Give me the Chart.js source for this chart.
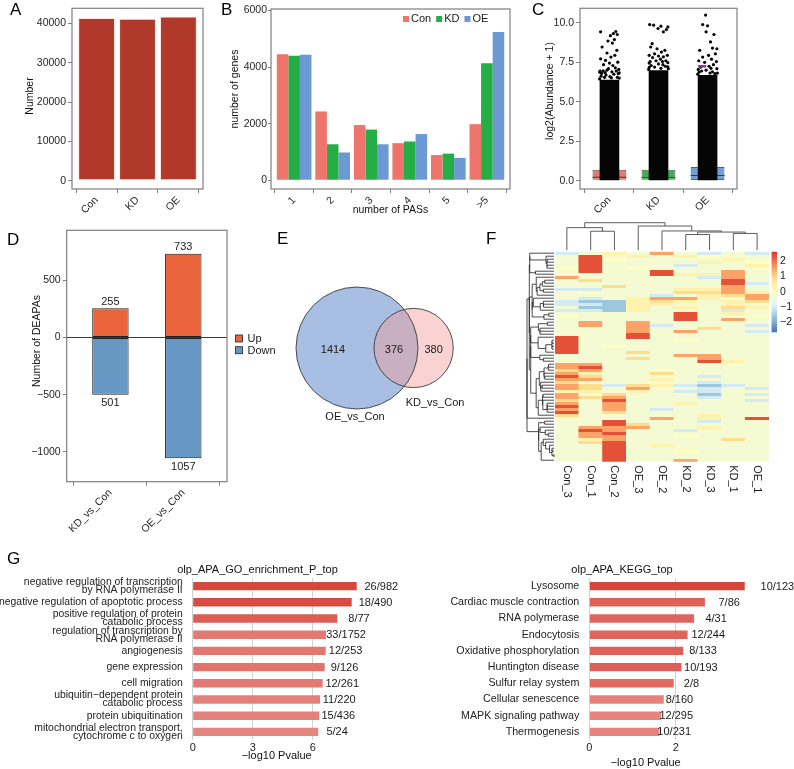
<!DOCTYPE html>
<html>
<head>
<meta charset="utf-8">
<title>APA figure</title>
<script src="https://cdn.jsdelivr.net/npm/chart.js@4.4.1/dist/chart.umd.min.js"></script>
<style>
  html, body { margin:0; padding:0; background:#ffffff; }
  #fig { position:relative; width:794px; height:769px; overflow:hidden; background:#fff;
         font-family:"Liberation Sans", Arial, Helvetica, sans-serif; }
  #fig canvas { position:absolute; }
  .plab { position:absolute; font-size:17px; line-height:17px; color:#000; }
</style>
</head>
<body>
<div id="fig">
  <canvas id="cA" width="212" height="230" style="left:0px;top:0px"></canvas>
  <canvas id="cB" width="315" height="230" style="left:205px;top:0px"></canvas>
  <canvas id="cC" width="264" height="230" style="left:530px;top:0px"></canvas>
  <canvas id="cD" width="280" height="330" style="left:0px;top:222px"></canvas>
  <canvas id="cE" width="200" height="260" style="left:280px;top:222px"></canvas>
  <canvas id="cF" width="274" height="300" style="left:520px;top:215px"></canvas>
  <canvas id="cG1" width="400" height="209" style="left:0px;top:560px"></canvas>
  <canvas id="cG2" width="394" height="209" style="left:400px;top:560px"></canvas>
  <div class="plab" style="left:10px;top:1px">A</div>
  <div class="plab" style="left:221px;top:1px">B</div>
  <div class="plab" style="left:532px;top:1px">C</div>
  <div class="plab" style="left:7px;top:231px">D</div>
  <div class="plab" style="left:277px;top:230px">E</div>
  <div class="plab" style="left:486px;top:230px">F</div>
  <div class="plab" style="left:7px;top:550px">G</div>
</div>
<script>
// ===================== DATA =====================
// A
const aCategories = ['Con', 'KD', 'OE'];
const aNumbers = [41400, 41250, 41800];
const aTicks = [0, 10000, 20000, 30000, 40000];

// B
const bCategories = ['1', '2', '3', '4', '5', '>5'];
const bCon = [4450, 2430, 1950, 1310, 890, 1980];
const bKD  = [4400, 1270, 1790, 1370, 940, 4130];
const bOE  = [4430, 980, 1270, 1630, 790, 5240];
const bTicks = [0, 2000, 4000, 6000];

// C  (box statistics, dense part of the jitter strip, and the sparse upper points [offset, value])
const cGroups = ['Con', 'KD', 'OE'];
const cQ1 = [0.06, 0.06, 0.05];
const cMedian = [0.23, 0.20, 0.34];
const cQ3 = [0.70, 0.70, 0.87];
const cDenseTop = [6.4, 7.0, 6.7];
const cConPoints = [
  [-0.18,9.43],[-0.03,8.85],[0.02,9.19],[0.08,9.32],[0.13,9.45],[0.16,9.26],
  [-0.15,8.47],[0.06,8.72],[0.10,8.94],[-0.05,8.09],[0.15,8.26],[-0.08,7.62],
  [0.11,7.94],[-0.18,7.72],[0.03,7.83],[0.17,7.51],[-0.12,7.35],[0.00,7.45],
  [0.07,7.30],[-0.02,7.10],[0.19,7.05],[-0.19,6.95],[0.12,7.15],[-0.09,6.85],
  [0.05,6.90],[0.18,6.78],[-0.16,6.80],[-0.05,7.00],[0.14,6.95],
  [-0.20,6.45],[0.20,6.50],[-0.17,6.62],[0.16,6.55],[-0.20,6.88],[0.20,6.84],
  [-0.07,6.70],[0.09,6.75],[0.01,6.60],[-0.13,6.96],[0.04,6.52],[-0.10,6.55]
];
const cKDPoints = [
  [-0.18,9.89],[-0.10,9.85],[-0.01,9.64],[0.05,9.79],[0.10,9.43],[0.16,9.57],[0.19,9.74],
  [-0.13,8.68],[-0.16,8.47],[-0.03,8.36],[0.13,8.26],[-0.08,8.04],[0.06,8.15],[0.18,7.94],
  [-0.19,7.94],[0.00,7.90],[0.10,7.85],[-0.12,7.80],[0.15,7.60],[-0.17,7.55],[0.04,7.70],
  [-0.05,7.60],[0.19,7.48],[-0.19,7.45],[0.08,7.55],
  [-0.20,7.05],[0.20,7.10],[-0.15,7.30],[0.14,7.25],[0.00,7.40],[-0.08,7.20],
  [0.09,7.35],[0.19,7.22],[-0.19,7.18],[0.05,7.12]
];
const cOEPoints = [
  [-0.04,10.49],[-0.10,9.89],[0.00,9.81],[-0.03,9.43],[0.13,9.26],[0.06,8.79],[-0.16,8.26],
  [0.10,8.40],[0.19,8.36],[-0.10,7.83],[0.16,8.04],[0.02,7.94],[-0.18,7.60],[0.08,7.70],
  [0.18,7.55],[-0.06,7.50],[0.12,7.35],[-0.14,7.20],[0.03,7.25],[0.19,7.10],[-0.19,7.05],[0.07,7.12],
  [-0.20,6.75],[0.20,6.82],[-0.12,6.95],[0.10,6.90],[0.15,6.78],[-0.03,7.00],[-0.17,6.88],[0.05,6.82]
];
const cMarkOE = [-0.11, 7.25];
const cTicks = [0, 2.5, 5, 7.5, 10];

// D
const dComparisons = ['KD_vs_Con', 'OE_vs_Con'];
const dUp = [255, 733];
const dDown = [501, 1057];
const dTicks = [-1000, -500, 0, 500];

// E
const eSetNames = ['OE_vs_Con', 'KD_vs_Con'];
const eOnly = [1414, 380];
const eShared = 376;

// F  (rows top->bottom, columns in displayed order; letter = value level)
const fSamples = ['Con_3','Con_1','Con_2','OE_3','OE_2','KD_2','KD_3','KD_1','OE_1'];
const fLevel = { 'b': -1.6, 'l': -1.0, '.': -0.3, ',': 0.0, 'y': 0.35, 'o': 0.9, 'O': 1.5, 'R': 2.3 };
const fRows = [
  'l.y.O.l.l', '.R.y.y,..', '.R,....y.', '.R....y.,', '.R...l..y', ',R.,.....',
  '.R..R..O.', '....RyyO.', 'O.....lO.', '.o.....R.', '.......Rl', '..o....O.',
  'll...yyO.', '.,...ooOy', '....l.yoO', '.l.yOOy.O', 'lbbyoy.yo', 'llbyy..y.',
  '.bby.y.oy', 'llby...l.', '.....R.y.', ',....R..,', '.....R.O.', '.O.O.....',
  '.O.Ol...l', '...O..o..', '...O.O..l', '...R.....', 'R..R.....', 'R....,...',
  'R........', 'R.,......', 'R........', 'R..o.....', '.....OO..', '...o..O..',
  '......Ry.', 'OO.......', 'OR.......', 'oO..,....', 'Oy..o....', 'Ro....l..',
  'OO..y....', 'o.....l..', 'Ooloylbl.', 'Oo.O..l.l', 'yy.y.ll..', 'O.o...b.l',
  'OoO...l..', 'o.R.....l', 'O.O..y...', 'R.O......', 'O.O.l....', 'R.o......',
  'o.....y..', '....O.y.R', '..R...l..', '..Ro.....', '.OOO..y..', '.RO..l...',
  '.OR......', '.OO..,...', '.yO....o.', '.oR......', '..R.y....', '..R......',
  '..R..,...', '..R......', '..R......', '..R..O...'
];
const fColMerges = [[1,2,0.69],[0,9,0.82],[5,6,0.57],[7,8,0.61],[11,12,0.66],[4,13,0.70],[3,14,0.88],[10,15,1.0]];
const fRange = [-2.6, 2.6];
const fLegendTicks = [2, 1, 0, -1, -2];

// G
const goTerms = [
  ['negative regulation of transcription', 'by RNA polymerase II'],
  'negative regulation of apoptotic process',
  ['positive regulation of protein', 'catabolic process'],
  ['regulation of transcription by', 'RNA polymerase II'],
  'angiogenesis',
  'gene expression',
  'cell migration',
  ['ubiquitin\u2212dependent protein', 'catabolic process'],
  'protein ubiquitination',
  ['mitochondrial electron transport,', 'cytochrome c to oxygen']
];
const goLog10P = [8.2, 7.95, 7.23, 6.67, 6.65, 6.6, 6.5, 6.37, 6.33, 6.28];
const goCounts = ['26/982', '18/490', '8/77', '33/1752', '12/253', '9/126', '12/261', '11/220', '15/436', '5/24'];
const goTicks = [0, 3, 6];

const keggTerms = ['Lysosome', 'Cardiac muscle contraction', 'RNA polymerase', 'Endocytosis',
  'Oxidative phosphorylation', 'Huntington disease', 'Sulfur relay system', 'Cellular senescence',
  'MAPK signaling pathway', 'Thermogenesis'];
const keggLog10P = [3.59, 2.67, 2.42, 2.27, 2.17, 2.13, 1.95, 1.72, 1.66, 1.62];
const keggCounts = ['10/123', '7/86', '4/31', '12/244', '8/133', '10/193', '2/8', '8/160', '12/295', '10/231'];
const keggTicks = [0, 2];

// ===================== STYLE / HELPERS =====================
const FONT = '"Liberation Sans", Arial, Helvetica, sans-serif';
Chart.defaults.font.family = FONT;
Chart.defaults.font.size = 10.5;
Chart.defaults.color = '#262626';
Chart.defaults.plugins.legend.display = false;
Chart.defaults.plugins.tooltip.enabled = false;

const AX = '#7f7f7f';
const VERT = -Math.PI / 2;
const uminus = v => (v < 0 ? '\u2212' : '') + String(Math.abs(v));
const setTicks = vals => s => { s.ticks = vals.map(v => ({ value: v })); };
const fixW = w => s => { s.width = w; };
const fixH = h => s => { s.height = h; };
const base = { responsive: false, maintainAspectRatio: false, animation: false, devicePixelRatio: 1, events: [] };

function framePlugin() {
  return { id: 'frame', afterDatasetsDraw(c) {
    const { ctx, chartArea: a } = c;
    ctx.save(); ctx.strokeStyle = AX; ctx.lineWidth = 1.2;
    ctx.strokeRect(a.left, a.top, a.right - a.left, a.bottom - a.top); ctx.restore();
  } };
}
function textPlugin(items) {
  return { id: 'texts', afterDraw(c) {
    const ctx = c.ctx;
    items.forEach(t => {
      ctx.save(); ctx.font = (t.size || 11) + 'px ' + FONT; ctx.fillStyle = t.color || '#111';
      ctx.textAlign = t.align || 'center'; ctx.textBaseline = 'middle';
      ctx.translate(t.x, t.y); if (t.rot) ctx.rotate(t.rot);
      ctx.fillText(t.text, 0, 0); ctx.restore();
    });
  } };
}
function xCatAxis(labels, min, max, h, title) {
  const ax = { type: 'linear', offset: false, min, max,
    afterBuildTicks: setTicks(labels.map((_, i) => i + 1)),
    ticks: { autoSkip: false, minRotation: 45, maxRotation: 45, padding: 1, color: '#262626',
             callback: v => labels[Math.round(v) - 1] },
    grid: { drawOnChartArea: false, tickLength: 4, color: AX, tickColor: AX },
    border: { display: false }, afterFit: fixH(h) };
  if (title) ax.title = { display: true, text: title, color: '#111', padding: { top: 0, bottom: 4 } };
  return ax;
}
function yValAxis(ticks, min, max, w, fmt, tickLen) {
  return { min, max, afterBuildTicks: setTicks(ticks),
    ticks: { padding: tickLen ? 1 : 2, color: '#262626', callback: fmt || (v => uminus(v)) },
    grid: { drawOnChartArea: false, tickLength: tickLen || 4, color: AX, tickColor: AX },
    border: { display: false }, afterFit: fixW(w) };
}

// ===================== A =====================
new Chart(document.getElementById('cA'), {
  type: 'bar',
  data: { datasets: [{ data: aNumbers.map((v, i) => ({ x: i + 1, y: v })),
    backgroundColor: '#B1392C', borderColor: 'rgba(255,225,218,0.9)', borderWidth: 1, borderSkipped: false,
    barPercentage: 0.9, categoryPercentage: 1 }] },
  options: { ...base, layout: { padding: { left: 19, top: 7, right: 9, bottom: 0 } },
    scales: { x: xCatAxis(aCategories, 0.4, 3.6, 41), y: yValAxis(aTicks, -2090, 43890, 53) } },
  plugins: [framePlugin(), textPlugin([{ text: 'Number', x: 30, y: 96, rot: VERT, size: 10.5 }])]
});

// ===================== B =====================
const bColors = ['#EE756B', '#24AE45', '#6C98D3'];
const bSeries = [['Con', bCon], ['KD', bKD], ['OE', bOE]];
function inlineLegend(x0, yc, sq, gap) {
  return { id: 'ilegend', afterDraw(c) {
    const ctx = c.ctx; ctx.save(); ctx.font = '11px ' + FONT; ctx.textBaseline = 'middle'; ctx.textAlign = 'left';
    let x = x0;
    c.data.datasets.forEach(ds => {
      ctx.fillStyle = ds.backgroundColor; ctx.fillRect(x, yc - sq / 2, sq, sq); x += sq + 2;
      ctx.fillStyle = '#1a1a1a'; ctx.fillText(ds.label, x, yc);
      x += ctx.measureText(ds.label).width + gap;
    });
    ctx.restore();
  } };
}
new Chart(document.getElementById('cB'), {
  type: 'bar',
  data: { datasets: bSeries.map(([name, vals], k) => ({ label: name,
    data: vals.map((v, i) => ({ x: i + 1, y: v })), backgroundColor: bColors[k], borderWidth: 0,
    barPercentage: 1, categoryPercentage: 0.9 })) },
  options: { ...base, layout: { padding: { left: 21, top: 9, right: 10, bottom: 10 } },
    scales: { x: xCatAxis(bCategories, 0.4, 6.6, 31, 'number of PASs'),
              y: yValAxis(bTicks, -310, 6050, 45, null, 3) } },
  plugins: [framePlugin(), inlineLegend(198, 19, 6, 5),
            textPlugin([{ text: 'number of genes', x: 30, y: 89, rot: VERT, size: 10.5 }])]
});

// ===================== C =====================
const cFill = ['rgba(234,108,98,0.92)', 'rgba(44,168,72,0.92)', 'rgba(104,150,210,0.92)'];
const cPts = [cConPoints, cKDPoints, cOEPoints];
new Chart(document.getElementById('cC'), {
  type: 'bar',
  data: { datasets: [
    { type: 'scatter', data: [{ x: 3 + cMarkOE[0], y: cMarkOE[1] }], pointStyle: 'line', pointRadius: 4,
      pointBorderColor: '#7E3B8F', pointBorderWidth: 2.4, order: 0 },
    { type: 'scatter', data: cPts.flatMap((arr, g) => arr.map(([o, v]) => ({ x: g + 1 + o, y: v }))),
      pointRadius: 1.6, pointBackgroundColor: '#050505', pointBorderColor: '#050505', pointBorderWidth: 0, order: 1 },
    { data: cGroups.map((g, i) => ({ x: i + 1, y: [0, cDenseTop[i]] })), backgroundColor: '#050505',
      grouped: false, barPercentage: 0.4, categoryPercentage: 1, order: 2 },
    { data: cGroups.map((g, i) => ({ x: i + 1, y: [cMedian[i] - 0.03, cMedian[i] + 0.03] })), backgroundColor: '#3a3a3a',
      grouped: false, barPercentage: 0.69, categoryPercentage: 1, order: 3 },
    { data: cGroups.map((g, i) => ({ x: i + 1, y: [cQ1[i], cQ3[i]] })), backgroundColor: cFill,
      borderColor: '#5e5e5e', borderWidth: 1, borderSkipped: false,
      grouped: false, barPercentage: 0.69, categoryPercentage: 1, order: 4 }
  ] },
  options: { ...base, layout: { padding: { left: 9, top: 7, right: 57, bottom: 0 } },
    scales: { x: xCatAxis(cGroups, 0.4, 3.6, 41),
              y: yValAxis(cTicks, -0.52, 10.92, 41, v => v.toFixed(1)) } },
  plugins: [framePlugin(), textPlugin([{ text: 'log2(Abundance + 1)', x: 20, y: 91, rot: VERT, size: 10.5 }])]
});

// ===================== D =====================
const dValueLabels = { id: 'dvals', afterDatasetsDraw(c) {
  const ctx = c.ctx; ctx.save(); ctx.font = '11px ' + FONT; ctx.fillStyle = '#1a1a1a';
  ctx.textAlign = 'center'; ctx.textBaseline = 'middle';
  c.getDatasetMeta(0).data.forEach((el, i) => ctx.fillText(String(dUp[i]), el.x, el.y - 6.5));
  c.getDatasetMeta(1).data.forEach((el, i) => ctx.fillText(String(dDown[i]), el.x, el.y + 8.5));
  ctx.restore();
} };
const dLegend = { id: 'dleg', afterDraw(c) {
  const ctx = c.ctx; ctx.save(); ctx.font = '11px ' + FONT; ctx.textBaseline = 'middle'; ctx.textAlign = 'left';
  c.data.datasets.forEach((ds, k) => {
    const y = 113 + k * 11.7;
    ctx.fillStyle = ds.backgroundColor; ctx.fillRect(235.5, y, 7, 7);
    ctx.strokeStyle = '#222'; ctx.lineWidth = 0.8; ctx.strokeRect(235.5, y, 7, 7);
    ctx.fillStyle = '#1a1a1a'; ctx.fillText(ds.label, 247.5, y + 3.8);
  });
  ctx.restore();
} };
const dY = yValAxis(dTicks, -1262, 938, 40.7);
dY.grid = { drawOnChartArea: true, tickLength: 4, tickColor: AX, lineWidth: 1,
  color: ctx => (ctx.tick && ctx.tick.value === 0) ? '#3a3a3a' : 'rgba(0,0,0,0)' };
new Chart(document.getElementById('cD'), {
  type: 'bar',
  data: { datasets: [
    { label: 'Up', data: dUp.map((v, i) => ({ x: i + 1, y: v })), backgroundColor: '#E9643A',
      borderColor: '#1e1e1e', borderWidth: 1, borderSkipped: false, grouped: false, barPercentage: 0.5, categoryPercentage: 1 },
    { label: 'Down', data: dDown.map((v, i) => ({ x: i + 1, y: -v })), backgroundColor: '#6897C3',
      borderColor: '#1e1e1e', borderWidth: 1, borderSkipped: false, grouped: false, barPercentage: 0.5, categoryPercentage: 1 }
  ] },
  options: { ...base, layout: { padding: { left: 26, top: 8, right: 53, bottom: 0 } },
    scales: { x: xCatAxis(dComparisons, 0.4, 2.6, 70.3), y: dY } },
  plugins: [framePlugin(), dValueLabels, dLegend,
            textPlugin([{ text: 'Number of DEAPAs', x: 37, y: 119, rot: VERT, size: 10.5 }])]
});

// ===================== E (area-proportional Venn) =====================
const eSizes = [eOnly[0] + eShared, eOnly[1] + eShared];
const eR = eSizes.map(s => Math.sqrt(s / Math.PI));
function lensArea(d, r1, r2) {
  if (d >= r1 + r2) return 0;
  if (d <= Math.abs(r1 - r2)) return Math.PI * Math.min(r1, r2) ** 2;
  const a1 = Math.acos((d * d + r1 * r1 - r2 * r2) / (2 * d * r1));
  const a2 = Math.acos((d * d + r2 * r2 - r1 * r1) / (2 * d * r2));
  const k = Math.sqrt((-d + r1 + r2) * (d + r1 - r2) * (d - r1 + r2) * (d + r1 + r2));
  return r1 * r1 * a1 + r2 * r2 * a2 - 0.5 * k;
}
let eLo = Math.abs(eR[0] - eR[1]), eHi = eR[0] + eR[1];
for (let k = 0; k < 80; k++) { const m = (eLo + eHi) / 2; if (lensArea(m, eR[0], eR[1]) > eShared) eLo = m; else eHi = m; }
const eD = (eLo + eHi) / 2;
const eCenters = [{ x: 0, y: 0 }, { x: eD, y: 0 }];
const ePx = 2.555;
const vennPlugin = { id: 'venn', afterDatasetsDraw(c) {
  const ctx = c.ctx, xs = c.scales.x, ys = c.scales.y;
  const fills = ['rgba(96,136,204,0.55)', 'rgba(240,158,156,0.45)'];
  const geo = eCenters.map((p, i) => ({
    px: xs.getPixelForValue(p.x), py: ys.getPixelForValue(p.y),
    rx: xs.getPixelForValue(p.x + eR[i]) - xs.getPixelForValue(p.x),
    ry: ys.getPixelForValue(p.y) - ys.getPixelForValue(p.y + eR[i]) }));
  ctx.save();
  geo.forEach((g, i) => { ctx.beginPath(); ctx.ellipse(g.px, g.py, g.rx, g.ry, 0, 0, 2 * Math.PI); ctx.fillStyle = fills[i]; ctx.fill(); });
  geo.forEach(g => { ctx.beginPath(); ctx.ellipse(g.px, g.py, g.rx, g.ry, 0, 0, 2 * Math.PI); ctx.strokeStyle = '#3c3c3c'; ctx.lineWidth = 0.9; ctx.stroke(); });
  ctx.font = '11px ' + FONT; ctx.fillStyle = '#1a1a1a'; ctx.textAlign = 'center'; ctx.textBaseline = 'middle';
  const lx = [(-eR[0] + eD - eR[1]) / 2, (eD - eR[1] + eR[0]) / 2, (eR[0] + eD + eR[1]) / 2];
  const lt = [eOnly[0], eShared, eOnly[1]];
  lx.forEach((x, i) => ctx.fillText(String(lt[i]), xs.getPixelForValue(x) - 2, ys.getPixelForValue(0) + 2));
  ctx.fillText(eSetNames[0], geo[0].px - 2, geo[0].py + geo[0].ry + 8);
  ctx.fillText(eSetNames[1], geo[1].px + 0.54 * geo[1].rx, geo[1].py + geo[1].ry + 15);
  ctx.restore();
} };
new Chart(document.getElementById('cE'), {
  type: 'scatter',
  data: { datasets: [{ data: eCenters, pointRadius: 0 }] },
  options: { ...base, layout: { padding: 0 },
    scales: { x: { display: false, min: -77 / ePx, max: (200 - 77) / ePx },
              y: { display: false, min: -(260 - 126) / ePx, max: 126 / ePx } } },
  plugins: [vennPlugin]
});

// ===================== F (heatmap) =====================
const pal = ['#4575B4', '#91BFDB', '#E0F3F8', '#FFFFBF', '#FEE090', '#FC8D59', '#D73027'].map(h =>
  [parseInt(h.slice(1, 3), 16), parseInt(h.slice(3, 5), 16), parseInt(h.slice(5, 7), 16)]);
function heatColor(v) {
  const t = Math.max(0, Math.min(1, (v - fRange[0]) / (fRange[1] - fRange[0])));
  const p = t * (pal.length - 1); const i = Math.min(pal.length - 2, Math.floor(p)); const f = p - i;
  const c = pal[i].map((x, k) => Math.round(x + (pal[i + 1][k] - x) * f));
  return 'rgb(' + c.join(',') + ')';
}
const fMatrix = fRows.map(s => s.split('').map(ch => fLevel[ch]));
function rowDendro(mat) {
  const dist = (a, b) => Math.sqrt(a.reduce((s, x, k) => s + (x - b[k]) ** 2, 0));
  let cl = mat.map((v, i) => ({ members: [i], h: 0, pos: i + 0.5 }));
  const merges = [];
  while (cl.length > 1) {
    let best = 0, bd = Infinity;
    for (let i = 0; i < cl.length - 1; i++) {
      let s = 0;
      for (const a of cl[i].members) for (const b of cl[i + 1].members) s += dist(mat[a], mat[b]);
      const d = s / (cl[i].members.length * cl[i + 1].members.length);
      if (d < bd) { bd = d; best = i; }
    }
    const A = cl[best], B = cl[best + 1];
    const h = Math.max(bd, A.h, B.h);
    merges.push({ A, B, h });
    cl.splice(best, 2, { members: A.members.concat(B.members), h, pos: (A.pos + B.pos) / 2 });
  }
  return merges;
}
const fRowMerges = rowDendro(fMatrix);
const heatDecor = { id: 'heatDecor', afterDatasetsDraw(c) {
  const ctx = c.ctx, a = c.chartArea, xs = c.scales.x, ys = c.scales.y;
  ctx.save();
  // column labels
  ctx.font = '11px ' + FONT; ctx.fillStyle = '#1a1a1a'; ctx.textAlign = 'left'; ctx.textBaseline = 'middle';
  fSamples.forEach((s, i) => { ctx.save(); ctx.translate(xs.getPixelForValue(i), a.bottom + 3.5); ctx.rotate(Math.PI / 2); ctx.fillText(s, 0, 0); ctx.restore(); });
  // column dendrogram
  ctx.strokeStyle = '#4a4a4a'; ctx.lineWidth = 0.9;
  const baseY = a.top - 1.5, span = 27.5;
  const nodes = fSamples.map((_, i) => ({ x: xs.getPixelForValue(i), h: 0 }));
  ctx.beginPath();
  fColMerges.forEach(([i, j, h]) => {
    const A = nodes[i], B = nodes[j], y = baseY - h * span;
    ctx.moveTo(A.x, baseY - A.h * span); ctx.lineTo(A.x, y); ctx.lineTo(B.x, y); ctx.lineTo(B.x, baseY - B.h * span);
    nodes.push({ x: (A.x + B.x) / 2, h });
  });
  ctx.stroke();
  // row dendrogram
  const leafX = a.left - 1, rootH = fRowMerges[fRowMerges.length - 1].h, wid = 27;
  ctx.strokeStyle = '#1e1e1e'; ctx.lineWidth = 0.8; ctx.beginPath();
  fRowMerges.forEach(m => {
    const xa = leafX - m.A.h / rootH * wid, xb = leafX - m.B.h / rootH * wid, xm = leafX - m.h / rootH * wid;
    const ya = ys.getPixelForValue(m.A.pos), yb = ys.getPixelForValue(m.B.pos);
    ctx.moveTo(xa, ya); ctx.lineTo(xm, ya); ctx.lineTo(xm, yb); ctx.lineTo(xb, yb);
  });
  ctx.stroke();
  // colour key
  const lx = a.right + 2.7, lw = 5.3, lh = 80, steps = 100;
  for (let k = 0; k < steps; k++) {
    const v = fRange[1] - (k + 0.5) / steps * (fRange[1] - fRange[0]);
    ctx.fillStyle = heatColor(v); ctx.fillRect(lx, a.top + k * lh / steps, lw, lh / steps + 0.6);
  }
  ctx.font = '10.5px ' + FONT; ctx.fillStyle = '#1a1a1a'; ctx.textAlign = 'left';
  fLegendTicks.forEach(v => ctx.fillText(uminus(v), lx + lw + 3, a.top + (fRange[1] - v) / (fRange[1] - fRange[0]) * lh));
  ctx.restore();
} };
new Chart(document.getElementById('cF'), {
  type: 'bar',
  data: { labels: fSamples, datasets: fMatrix.map(row => ({ data: row.map(() => 1), backgroundColor: row.map(heatColor),
    borderWidth: 0, barPercentage: 1, categoryPercentage: 1, stack: 'heat' })) },
  options: { ...base, layout: { padding: { left: 35, right: 25, top: 36.7, bottom: 53.3 } },
    scales: { x: { display: false, stacked: true },
              y: { display: false, stacked: true, reverse: true, min: 0, max: fRows.length } } },
  plugins: [heatDecor]
});

// ===================== G =====================
const goColors = ['#D5483F', '#D64B42', '#DB5D54', '#E27A73', '#E27770', '#E1746D', '#E27973', '#E3807A', '#E3817B', '#E4857F'];
const keggColors = ['#D6463D', '#DD625A', '#DE655D', '#DE645C', '#DD6159', '#DD6058', '#DF6B63', '#E4837C', '#E4847D', '#E4847D'];
function barLabels(texts, values, factor) {
  return { id: 'blabels', afterDatasetsDraw(c) {
    const ctx = c.ctx, xs = c.scales.x; ctx.save(); ctx.font = '11px ' + FONT; ctx.fillStyle = '#1a1a1a';
    ctx.textAlign = 'center'; ctx.textBaseline = 'middle';
    c.getDatasetMeta(0).data.forEach((el, i) => ctx.fillText(texts[i], xs.getPixelForValue(values[i] * factor), el.y + 0.5));
    ctx.restore();
  } };
}
function enrichChart(id, terms, values, colors, ticks, xmax, yw, padR, texts, labels, factor, lblSize) {
  return new Chart(document.getElementById(id), {
    type: 'bar',
    data: { labels: terms, datasets: [{ data: values, backgroundColor: colors, borderWidth: 0, barPercentage: 0.52, categoryPercentage: 1 }] },
    options: { ...base, indexAxis: 'y', layout: { padding: { left: 0, top: 18, right: padR, bottom: 9 } },
      scales: {
        y: { grid: { display: false }, border: { display: false }, afterFit: fixW(yw),
             ticks: { autoSkip: false, padding: 2, color: '#222', font: { size: lblSize, lineHeight: 0.77 } } },
        x: { min: 0, max: xmax, afterBuildTicks: setTicks(ticks), border: { display: false },
             grid: { color: '#D2D2D2', drawTicks: false, lineWidth: 1 }, afterFit: fixH(20),
             ticks: { padding: 1, color: '#222', font: { size: 11 }, callback: v => String(v) } }
      } },
    plugins: [textPlugin(texts), barLabels(labels, values, factor)]
  });
}
enrichChart('cG1', goTerms, goLog10P, goColors, goTicks, (361.3 - 192.7) / 20, 192.7, 38.7,
  [{ text: 'olp_APA_GO_enrichment_P_top', x: 257.5, y: 10 }, { text: '\u2212log10 Pvalue', x: 276.7, y: 196 }],
  goCounts, 1.15, 10.4);
enrichChart('cG2', keggTerms, keggLog10P, keggColors, keggTicks, (790 - 589.3) / 43.3, 189.3, 4,
  [{ text: 'olp_APA_KEGG_top', x: 222, y: 10 }, { text: '\u2212log10 Pvalue', x: 245.7, y: 202.7 }],
  keggCounts, 1.21, 10.7);
</script>
</body>
</html>
